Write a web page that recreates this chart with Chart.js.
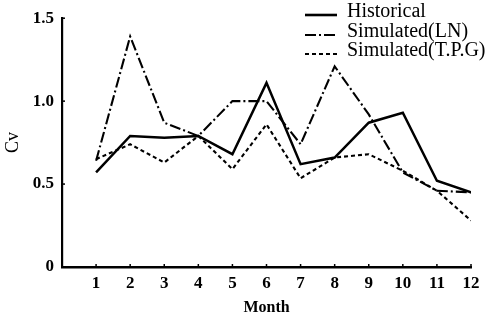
<!DOCTYPE html>
<html>
<head>
<meta charset="utf-8">
<script src="https://cdn.jsdelivr.net/npm/chart.js@4/dist/chart.umd.min.js"></script>
<style>
  html, body { margin: 0; padding: 0; background: #fff; }
  canvas { display: block; }
</style>
</head>
<body>
<canvas id="cv" width="488" height="323"></canvas>
<script>
// Monthly coefficient of variation (Cv)
const months = [1, 2, 3, 4, 5, 6, 7, 8, 9, 10, 11, 12];
const historical = [0.57, 0.79, 0.78, 0.79, 0.68, 1.11, 0.62, 0.66, 0.87, 0.93, 0.52, 0.45];
const simulatedLN = [0.64, 1.39, 0.87, 0.79, 1.00, 1.00, 0.74, 1.21, 0.92, 0.57, 0.46, 0.45];
const simulatedTPG = [0.65, 0.74, 0.63, 0.79, 0.59, 0.86, 0.535, 0.66, 0.68, 0.58, 0.46, 0.28];
const yTicks = [0, 0.5, 1.0, 1.5];
const seriesNames = ['Historical', 'Simulated(LN)', 'Simulated(T.P.G)'];

const toPoints = vals => months.map((m, i) => ({ x: m, y: vals[i] }));

const SERIF = '"Liberation Serif", "DejaVu Serif", serif';

// Small inward tick marks on both axes plus the line legend in the top-right corner
const decorations = {
  id: 'decorations',
  afterDraw(chart) {
    const ctx = chart.ctx;
    const xs = chart.scales.x, ys = chart.scales.y;
    const area = chart.chartArea;
    ctx.save();
    ctx.strokeStyle = '#000';
    ctx.lineWidth = 1.5;
    months.forEach(m => {
      const px = xs.getPixelForValue(m);
      ctx.beginPath();
      ctx.moveTo(px, area.bottom);
      ctx.lineTo(px, area.bottom - 3);
      ctx.stroke();
    });
    yTicks.forEach(v => {
      if (v === 0) return;
      const py = ys.getPixelForValue(v);
      ctx.beginPath();
      ctx.moveTo(area.left, py);
      ctx.lineTo(area.left + 3, py);
      ctx.stroke();
    });

    // legend
    const x0 = 305, x1 = 337, tx = 347;
    const rows = [12, 32, 51];
    chart.data.datasets.forEach((ds, i) => {
      const y = rows[i];
      ctx.beginPath();
      ctx.setLineDash(ds.borderDash || []);
      ctx.lineWidth = i === 0 ? 2.6 : 2.2;
      ctx.moveTo(x0, y + 3);
      ctx.lineTo(x1, y + 3);
      ctx.stroke();
      ctx.setLineDash([]);
      ctx.fillStyle = '#000';
      ctx.font = '20px ' + SERIF;
      ctx.textBaseline = 'middle';
      ctx.textAlign = 'left';
      ctx.fillText(ds.label, tx, y);
    });
    ctx.restore();
  }
};

new Chart(document.getElementById('cv'), {
  type: 'line',
  data: {
    datasets: [
      {
        label: seriesNames[0],
        data: toPoints(historical),
        borderColor: '#000',
        borderWidth: 2.5,
        pointRadius: 0,
        tension: 0,
        fill: false
      },
      {
        label: seriesNames[1],
        data: toPoints(simulatedLN),
        borderColor: '#000',
        borderWidth: 2.1,
        borderDash: [11, 3, 2, 3],
        pointRadius: 0,
        tension: 0,
        fill: false
      },
      {
        label: seriesNames[2],
        data: toPoints(simulatedTPG),
        borderColor: '#000',
        borderWidth: 2.1,
        borderDash: [4, 3],
        pointRadius: 0,
        tension: 0,
        fill: false
      }
    ]
  },
  options: {
    responsive: false,
    animation: false,
    events: [],
    layout: { padding: { top: 15, right: 17, left: 0, bottom: 0 } },
    plugins: {
      legend: { display: false },
      tooltip: { enabled: false }
    },
    scales: {
      x: {
        type: 'linear',
        min: 0,
        max: 12,
        afterBuildTicks: s => { s.ticks = months.map(v => ({ value: v })); },
        afterFit: s => { s.height = 323 - 267; },
        ticks: {
          autoSkip: false,
          padding: 6,
          color: '#000',
          font: { family: SERIF, size: 17, weight: 'bold' },
          maxRotation: 0
        },
        grid: { display: true, drawOnChartArea: false, drawTicks: false },
        border: { display: true, color: '#000', width: 2.5 },
        title: {
          display: true,
          text: 'Month',
          color: '#000',
          font: { family: SERIF, size: 16, weight: 'bold', lineHeight: 1.2 },
          padding: { top: 0, bottom: 6 }
        }
      },
      y: {
        min: 0,
        max: 1.5,
        afterBuildTicks: s => { s.ticks = yTicks.map(v => ({ value: v })); },
        afterFit: s => { s.width = 62; },
        ticks: {
          padding: 8,
          color: '#000',
          font: { family: SERIF, size: 17, weight: 'bold' },
          callback: v => (v === 0 ? '0' : v.toFixed(1))
        },
        grid: { display: true, drawOnChartArea: false, drawTicks: false },
        border: { display: true, color: '#000', width: 2.2 },
        title: {
          display: true,
          text: 'Cv',
          color: '#000',
          font: { family: SERIF, size: 18, lineHeight: 1.2 },
          padding: { top: 2, bottom: 0 }
        }
      }
    }
  },
  plugins: [decorations]
});
</script>
</body>
</html>
